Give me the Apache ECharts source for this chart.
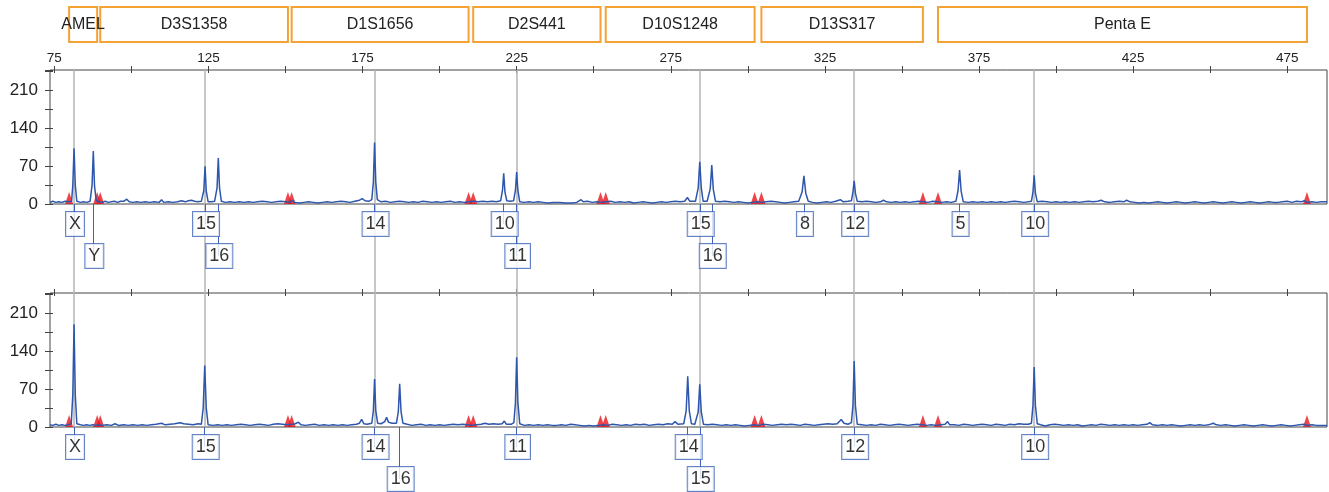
<!DOCTYPE html>
<html><head><meta charset="utf-8">
<script src="https://cdn.jsdelivr.net/npm/echarts@6/dist/echarts.min.js"></script>
<style>html,body{margin:0;padding:0;background:#fff}#c{width:1329px;height:492px}</style>
</head><body><div id="c"></div>
<script>
// ---------- data ----------
const tickValues = [75,100,125,150,175,200,225,250,275,300,325,350,375,400,425,450,475];
const tickLabels = [75,125,175,225,275,325,375,425,475];
const yLabels = [0,70,140,210];

const lociNames = ['AMEL','D3S1358','D1S1656','D2S441','D10S1248','D13S317','Penta E'];
const lociStart = [79.8, 89.9, 152.0, 210.9, 253.9, 304.4, 361.7];
const lociEnd   = [88.9, 150.8, 209.4, 252.2, 302.2, 356.8, 481.4];

const refLines = [81.4, 123.9, 178.9, 225.0, 284.4, 334.5, 392.9];

const alleles1     = ['X','Y','15','16','14','10','11','15','16','8','12','5','10'];
const alleleSizes1 = [81.4,87.65,123.9,128.2,178.9,220.8,225.0,284.4,288.3,318.2,334.5,368.7,392.9];
const alleleRows1  = [1,2,1,2,1,1,2,1,2,1,1,1,1];

const alleles2     = ['X','15','14','16','11','14','15','12','10'];
const alleleSizes2 = [81.4,123.8,178.9,187.05,225.0,280.5,284.4,334.5,392.9];
const alleleRows2  = [1,1,1,2,1,1,2,1,1];

const trace1 = [[73.6,3],[74.5,5],[75.5,3],[76.5,4],[77.5,3],[78.5,5],[79.5,4],[80.6,5],[81.0,35],[81.4,103],[81.8,35],[82.3,5],[83.5,3],[84.5,4],[85.5,3],[86.6,5],[87.25,35],[87.65,98],[88.05,33],[88.6,6],[89.5,4],[90.5,3],[91.5,5],[92.5,3],[93.5,4],[94.5,5],[95.5,3],[96.5,5],[97.5,5],[98.5,9],[99.3,4],[100.5,3],[101.8,4],[103,3],[104.5,4],[106,3],[107.5,4],[109,3],[109.8,8],[110.5,3],[112,4],[113.5,3],[115,4],[116.3,6],[117.5,4],[118.5,6],[119.5,7],[120.5,5],[121.5,4],[122.7,5],[123.5,25],[123.9,70],[124.3,24],[124.9,4],[126,4],[127,5],[127.8,30],[128.2,85],[128.6,30],[129.2,5],[130.5,3],[132,4],[133.5,3],[135,4],[136.5,3],[138,4],[139.5,3],[141,4],[142.5,5],[144,4],[145.5,3],[147,4],[148.5,5],[150,4],[151.5,3],[152.3,7],[153,3],[154.5,2],[156,3],[157.5,4],[159,3],[160.5,2],[162,3],[163.5,4],[165,3],[166.5,4],[168,5],[169.5,4],[171,3],[172.5,5],[174,7],[174.9,10],[175.8,6],[177,5],[178,8],[178.5,40],[178.9,114],[179.3,40],[179.8,8],[181,4],[182.5,5],[184,3],[185.5,4],[187,5],[188.5,4],[190,3],[191.5,4],[193,3],[194.5,5],[196,4],[197.5,3],[199,4],[200.5,3],[202,4],[203.5,5],[205,3],[206.5,4],[208,3],[209.5,4],[211,5],[212.5,4],[214,5],[215.5,4],[217,5],[218.5,4],[219.8,6],[220.4,25],[220.8,57],[221.2,22],[221.8,6],[222.8,5],[224,6],[224.6,25],[225.0,59],[225.4,25],[226,4],[227.5,3],[229,4],[230.5,3],[232,4],[233.5,3],[235,2],[237,3],[239,3],[241,2],[243,2],[244.5,3],[245.9,8],[246.6,4],[248,5],[249.5,3],[251,4],[252.5,3],[254,4],[255.5,5],[257,3],[258.5,4],[260,3],[261.5,4],[263,2],[264.5,3],[266,4],[267.5,3],[269,2],[270.5,3],[272,4],[273.5,3],[275,4],[276.5,5],[278,4],[279.5,5],[280.4,12],[281.2,5],[283,5],[283.9,30],[284.4,78],[284.9,30],[285.5,5],[286.8,5],[287.8,28],[288.3,72],[288.8,27],[289.5,5],[291,4],[292.5,5],[294,4],[295.5,3],[297,4],[298.5,3],[300,2],[301.5,3],[303,4],[304.5,3],[306,4],[307.5,5],[309,4],[310.5,3],[312,2],[313.5,3],[315,4],[316.5,5],[317.6,22],[318.2,52],[318.8,20],[319.6,5],[321,3],[322.5,2],[324,3],[325.5,4],[327,3],[328.5,5],[330,8],[331,4],[332.5,5],[333.6,6],[334.1,22],[334.5,43],[334.9,20],[335.5,5],[337,4],[338.5,5],[340,4],[341.5,3],[343,4],[344,7],[345,4],[346.5,3],[348,4],[349.5,3],[351,4],[352.5,3],[354,4],[355.5,5],[357,4],[358.5,3],[360,5],[361.5,4],[363,3],[364.5,4],[366,3],[367.5,5],[368.2,25],[368.7,63],[369.2,24],[369.9,4],[371.5,3],[373,4],[374.5,3],[376,4],[377.5,3],[379,4],[380.5,3],[382,4],[383.5,3],[385,4],[386.5,5],[388,4],[389.5,3],[391,4],[392,5],[392.5,22],[392.9,53],[393.3,20],[393.9,4],[395.5,5],[397,4],[398.5,3],[400,4],[401.5,3],[403,4],[404.5,3],[406,4],[407.5,3],[409,4],[410.5,5],[412,4],[413.5,5],[414.6,7],[415.8,4],[417.5,3],[419,4],[420.5,5],[422,4],[422.9,7],[424,4],[425.5,3],[427,2],[428.5,3],[430,2],[431.5,3],[433,4],[434.5,3],[436,2],[437.5,3],[439,4],[440.5,3],[442,2],[443.5,3],[445,4],[446.5,3],[448,2],[449.5,3],[451,4],[452.5,3],[454,2],[455.5,3],[457,4],[458.5,3],[460,2],[461.5,3],[463,4],[464.5,3],[466,2],[467.5,3],[469,4],[470.5,3],[472,3],[473.5,4],[475,5],[476.5,3],[478,5],[479.5,4],[480.5,6],[481.5,3],[483,4],[484.5,3],[486,4],[487.9,4]];

const trace2 = [[73.6,4],[74.5,3],[75.5,5],[76.5,3],[77.5,4],[78.5,3],[79.5,4],[80.5,6],[81.0,60],[81.4,190],[81.8,60],[82.3,6],[83.5,4],[84.5,3],[85.5,4],[86.5,3],[87.5,4],[88.5,3],[89.5,4],[90.5,3],[92,4],[93.5,3],[94.7,6],[95.8,3],[97.5,4],[99,3],[100.5,4],[102,3],[103.5,4],[105,3],[106.5,4],[108,5],[109.8,7],[111,4],[112.5,5],[114,6],[115.8,8],[117,6],[118.5,5],[120,4],[121.7,6],[122.7,5],[123.3,35],[123.8,114],[124.3,35],[124.9,4],[126.5,3],[128,4],[129.5,3],[131,4],[132.5,3],[134,4],[135.5,5],[137,4],[138.5,3],[140,4],[141.5,5],[143,4],[144.5,3],[146,5],[147.5,6],[149,5],[150.5,4],[152,5],[153.2,6],[154.2,9],[155,4],[156.5,3],[158,4],[159.5,5],[161,3],[162.5,4],[164,3],[165.5,4],[167,3],[168.5,4],[170,3],[171.5,4],[173,5],[174,7],[174.7,14],[175.4,6],[176.5,5],[178,7],[178.5,30],[178.9,89],[179.3,30],[179.9,7],[181,6],[182.2,10],[182.8,18],[183.4,9],[184.5,7],[186,7],[186.6,28],[187.05,80],[187.5,28],[188.1,7],[189.5,5],[191,3],[192.5,4],[194,5],[195.5,3],[197,4],[198.5,3],[200,4],[201.5,3],[203,4],[204.5,5],[206,4],[207.5,5],[209,4],[210.5,3],[212,4],[213.5,5],[214.7,7],[216,5],[217.5,6],[219,5],[220.3,6],[221,11],[221.7,5],[223.2,5],[224.1,8],[224.6,45],[225.0,129],[225.4,45],[226,6],[227.5,3],[229,4],[230.5,3],[232,4],[233.5,3],[235,4],[236.5,3],[238,3],[239.5,4],[241,3],[242.5,5],[244,4],[245.5,3],[247,2],[248.5,3],[250,2],[251.5,3],[253,4],[254.5,3],[256,5],[257.5,4],[259,3],[260.5,4],[262,3],[263.5,5],[265,4],[266.5,5],[268,3],[269.5,4],[271,5],[272.5,4],[274,6],[275.5,5],[276.4,10],[277.3,5],[279.2,6],[280,30],[280.5,94],[281,30],[281.7,6],[282.8,5],[283.9,28],[284.4,79],[284.9,28],[285.6,5],[287,4],[288.5,5],[290,4],[291.5,3],[293,4],[294.5,3],[296,4],[297.5,3],[299,2],[300.5,3],[302,4],[303.5,3],[305,5],[306.5,4],[308,3],[309.5,4],[311,5],[312.5,4],[314,5],[315.5,4],[317,3],[318.5,5],[320,4],[321.5,3],[323,4],[324.5,5],[326,6],[327.5,5],[329,6],[330.3,14],[331.2,7],[332.5,5],[333.6,8],[334.1,40],[334.5,122],[334.9,40],[335.5,5],[337,4],[338.5,3],[340,4],[341.5,3],[343,5],[344.5,4],[346,3],[347.5,4],[349,5],[350.5,4],[352,3],[353.5,4],[355,5],[356.5,4],[358,3],[359.5,4],[361,3],[362.5,4],[364,5],[364.8,10],[365.5,4],[367,4],[368.5,3],[370,5],[371.5,4],[373,3],[374.5,4],[376,5],[377.5,4],[379,3],[380.5,5],[382,4],[383.5,3],[385,5],[386.5,4],[388,6],[389.5,5],[391,5],[392,7],[392.5,40],[392.9,111],[393.3,40],[393.9,6],[395,4],[396.5,2],[398,4],[399.5,5],[401,4],[402.5,3],[404,4],[405.5,3],[407,4],[408.5,2],[410,3],[411.5,4],[413,3],[414.5,5],[416,4],[417.5,3],[419,4],[420.5,3],[422,4],[423.5,3],[425,4],[426.5,3],[428,4],[429.5,5],[430.4,8],[431.3,4],[433,3],[434.5,4],[436,3],[437.5,4],[439,3],[440.5,2],[442,3],[443.5,4],[445,3],[446.5,4],[448,3],[449.5,4],[451,7],[452,4],[453.5,3],[455,4],[456.5,3],[458,2],[459.5,3],[461,4],[462.5,3],[464,2],[465.5,3],[467,4],[468.5,3],[470,2],[471.5,3],[473,4],[474.5,3],[476,2],[477.5,3],[479,4],[480.5,5],[481.5,3],[483,4],[484.5,3],[486,3],[487.9,3]];

// ---------- config ----------
const X_MIN = 73.6, X_MAX = 487.9, Y_MAX = 248;
const FONT = '"Liberation Sans", Arial, sans-serif';
const AX = '#444';
const TRACE = '#2d56ac';
const BOXBLUE = '#3d64b8';
const ROW_Y = {1: 20, 2: 52};

const chart = echarts.init(document.getElementById('c'), null, {renderer: 'canvas'});

const gridBase = {left: 50, right: 2, containLabel: false};
const grids = [
  Object.assign({top: 70, height: 134, show: true, borderColor: AX, borderWidth: 1}, gridBase), // 0 plot1
  Object.assign({top: 293, height: 134, show: true, borderColor: AX, borderWidth: 1}, gridBase), // 1 plot2
  Object.assign({top: 204, height: 65}, gridBase),  // 2 labels plot1
  Object.assign({top: 427, height: 65}, gridBase),  // 3 labels plot2
  Object.assign({top: 70, height: 357}, gridBase),  // 4 reference lines
  Object.assign({top: 7, height: 35}, gridBase)     // 5 header
];

// tick axes are shifted 3px into the plot so that ticks straddle the frame line
function tickX(grid, withLabels) {
  return {
    gridIndex: grid, type: 'value', min: X_MIN, max: X_MAX, position: 'top', offset: -3,
    axisLine: {show: false, onZero: false}, splitLine: {show: false},
    axisTick: {show: true, inside: false, length: 7, customValues: tickValues,
               lineStyle: {color: AX, width: 1}},
    axisLabel: {show: withLabels, customValues: tickLabels, margin: 8,
                fontSize: 13.5, color: '#222', fontFamily: FONT}
  };
}
function hiddenX(grid) {
  return {gridIndex: grid, type: 'value', min: X_MIN, max: X_MAX, show: false};
}
function tickY(grid) {
  return {
    gridIndex: grid, type: 'value', min: 0, max: Y_MAX, interval: 35, position: 'left', offset: -3,
    axisLine: {show: false, onZero: false}, splitLine: {show: false},
    axisTick: {show: true, inside: false, length: 8, lineStyle: {color: AX, width: 1}},
    axisLabel: {show: true, margin: 15, fontSize: 17, color: '#222', fontFamily: FONT,
                formatter: v => yLabels.indexOf(v) >= 0 ? String(v) : ''}
  };
}

const xAxes = [tickX(0, true), tickX(1, false), hiddenX(2), hiddenX(3), hiddenX(4), hiddenX(5)];
const yAxes = [tickY(0), tickY(1),
  {gridIndex: 2, type: 'value', min: 0, max: 65, inverse: true, show: false},
  {gridIndex: 3, type: 'value', min: 0, max: 65, inverse: true, show: false},
  {gridIndex: 4, type: 'value', min: 0, max: 1, show: false},
  {gridIndex: 5, type: 'value', min: 0, max: 1, show: false}];

const series = [];

// header loci boxes
series.push({
  type: 'custom', xAxisIndex: 5, yAxisIndex: 5, silent: true,
  data: lociNames.map((n, i) => [lociStart[i], lociEnd[i]]),
  renderItem: (params, api) => {
    const p0 = api.coord([api.value(0), 1]);
    const p1 = api.coord([api.value(1), 0]);
    return {
      type: 'rect',
      shape: {x: p0[0], y: p0[1], width: p1[0] - p0[0], height: p1[1] - p0[1]},
      style: {fill: 'rgba(255,255,255,0)', stroke: '#f5a234', lineWidth: 2},
      textContent: {style: {text: lociNames[params.dataIndex], fontSize: 16, fill: '#222', fontFamily: FONT}},
      textConfig: {position: 'inside'}
    };
  }
});

// reference grey lines
series.push({
  type: 'lines', coordinateSystem: 'cartesian2d', xAxisIndex: 4, yAxisIndex: 4, silent: true, z: 1,
  lineStyle: {color: '#b4b4b4', width: 1.5, opacity: 1},
  data: refLines.map(v => ({coords: [[v, 0], [v, 1]]}))
});

function plotSeries(pi, trace, alleles, sizes, rows) {
  const xi = pi, yi = pi, lx = 2 + pi, ly = 2 + pi;
  // locus edge markers
  series.push({
    type: 'scatter', xAxisIndex: xi, yAxisIndex: yi, silent: true, z: 2,
    symbol: 'triangle', symbolSize: [8, 12], symbolOffset: [0, '-50%'],
    itemStyle: {color: '#e8141b'},
    data: lociStart.concat(lociEnd).map(v => [v, 0])
  });
  // trace
  series.push({
    type: 'line', xAxisIndex: xi, yAxisIndex: yi, silent: true, z: 3,
    showSymbol: false, symbol: 'none', sampling: null, clip: true,
    lineStyle: {color: TRACE, width: 1.5},
    data: trace
  });
  // connectors
  series.push({
    type: 'lines', coordinateSystem: 'cartesian2d', xAxisIndex: lx, yAxisIndex: ly, silent: true, z: 4,
    lineStyle: {color: BOXBLUE, width: 1, opacity: 1},
    data: sizes.map((s, i) => ({coords: [[s, 0], [s, ROW_Y[rows[i]]]]}))
  });
  // allele boxes
  series.push({
    type: 'scatter', xAxisIndex: lx, yAxisIndex: ly, silent: true, z: 5,
    symbolSize: 1, itemStyle: {color: 'rgba(0,0,0,0)'},
    data: sizes.map((s, i) => [s, ROW_Y[rows[i]], alleles[i]]),
    label: {
      show: true, position: 'inside', offset: [1, 0],
      formatter: p => p.value[2],
      fontSize: 18, lineHeight: 20, color: '#000', fontFamily: FONT,
      backgroundColor: '#fff', borderColor: BOXBLUE, borderWidth: 1, padding: [2, 3, 2, 3]
    }
  });
}
plotSeries(0, trace1, alleles1, alleleSizes1, alleleRows1);
plotSeries(1, trace2, alleles2, alleleSizes2, alleleRows2);

chart.setOption({
  animation: false,
  backgroundColor: '#fff',
  textStyle: {fontFamily: FONT},
  grid: grids, xAxis: xAxes, yAxis: yAxes, series: series
});
</script>
</body></html>
